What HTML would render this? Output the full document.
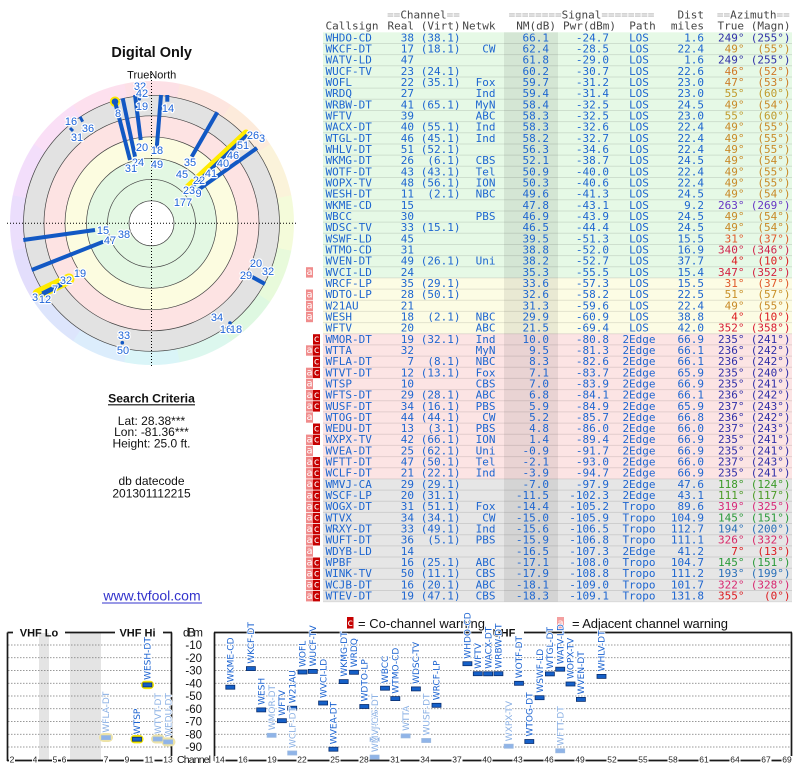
<!DOCTYPE html>
<html><head><meta charset="utf-8"><style>
body{margin:0;background:#fff;width:800px;height:768px;overflow:hidden;position:relative}
#ring{position:absolute;left:9.5px;top:81.3px;width:284px;height:284px;border-radius:50%;
background:conic-gradient(from -11.25deg,#fde0e6 0deg 22.5deg,#fde5df 22.5deg 45deg,#fdebdb 45deg 67.5deg,#fbf3da 67.5deg 90deg,#f4fbda 90deg 112.5deg,#e8fadb 112.5deg 135deg,#def8e1 135deg 157.5deg,#dcf7ee 157.5deg 180deg,#daf5f8 180deg 202.5deg,#dcedfc 202.5deg 225deg,#dde5fc 225deg 247.5deg,#e3defc 247.5deg 270deg,#ebdefc 270deg 292.5deg,#f3defb 292.5deg 315deg,#fadff6 315deg 337.5deg,#fde0ee 337.5deg 360deg)}
svg{position:absolute;left:0;top:0}
.tb{font-family:"DejaVu Sans Mono",monospace;font-size:11px}
.e{text-anchor:end}.m{text-anchor:middle}
.pl{font-family:"Liberation Sans",sans-serif;font-size:11px;fill:#1e64d8;stroke:#fff;stroke-width:2.4px;paint-order:stroke;stroke-linejoin:round;text-anchor:middle}
.sn{font-family:"Liberation Sans",sans-serif;fill:#111;text-anchor:middle}
.bl{font-family:"DejaVu Sans",sans-serif;font-size:9px;stroke:#fff;stroke-width:1.6px;paint-order:stroke;stroke-linejoin:round}
.dk{fill:#1a62d0}.lt{fill:#8ab0e4}
.mk{font-family:"DejaVu Sans Mono",monospace;font-size:10px;fill:#fff;text-anchor:middle}
.ax{font-family:"Liberation Sans",sans-serif;font-size:11.5px;fill:#111}
.ch{font-family:"Liberation Sans",sans-serif;font-size:8.5px;fill:#222;text-anchor:middle}
</style></head><body>
<div id="ring"></div>
<svg width="800" height="768" viewBox="0 0 800 768">
<!-- polar inner -->
<circle cx="151.5" cy="223.3" r="128" fill="#e2e2e2"/>
<circle cx="151.5" cy="223.3" r="107.5" fill="#fde3e3"/>
<circle cx="151.5" cy="223.3" r="86.5" fill="#fcfce0"/>
<circle cx="151.5" cy="223.3" r="65" fill="#e3f8e3"/>
<circle cx="151.5" cy="223.3" r="22.5" fill="#fff"/>
<g fill="none" stroke="#444" stroke-width="0.7">
<circle cx="151.5" cy="223.3" r="128"/><circle cx="151.5" cy="223.3" r="107.5"/><circle cx="151.5" cy="223.3" r="86.5"/><circle cx="151.5" cy="223.3" r="65"/><circle cx="151.5" cy="223.3" r="44"/><circle cx="151.5" cy="223.3" r="22.5"/>
</g>
<g stroke="#000" stroke-width="1" stroke-dasharray="1,2">
<line x1="7" y1="223.3" x2="296" y2="223.3"/><line x1="151.5" y1="74" x2="151.5" y2="367"/>
</g>
<text x="151.7" y="56.9" class="sn" style="font-size:14.5px;font-weight:bold">Digital Only</text>
<text x="151.7" y="78.3" class="sn" style="font-size:11px">TrueNorth</text>
<g stroke="#ffeb00" stroke-linecap="round" fill="none">
<line x1="188" y1="187" x2="246" y2="133" stroke-width="7"/>
<line x1="38" y1="294" x2="69" y2="279" stroke-width="11"/>
</g>
<circle cx="115" cy="101.7" r="5.2" fill="#ffe800"/>
<g stroke="#1258c4" stroke-width="4" fill="none">
<line x1="115" y1="101.7" x2="130" y2="160"/>
<line x1="122.7" y1="98.3" x2="135" y2="156.7"/>
<line x1="135" y1="95" x2="140.7" y2="140"/>
<line x1="161" y1="95" x2="156.7" y2="148.3"/>
<line x1="167.3" y1="95" x2="167.3" y2="101.7"/>
<line x1="217.3" y1="112.3" x2="191.7" y2="156.7"/>
<line x1="191" y1="188" x2="247" y2="135" stroke-width="3.5"/>
<line x1="198" y1="190" x2="257" y2="148"/>
<line x1="23.3" y1="240" x2="95" y2="230"/>
<line x1="31.7" y1="270" x2="103.3" y2="241.7"/>
<line x1="42" y1="293" x2="66" y2="281" stroke-width="3"/>
<line x1="40" y1="296" x2="62" y2="285" stroke-width="3"/>
<line x1="251.7" y1="276.7" x2="265" y2="284"/>
<line x1="70" y1="128" x2="73" y2="131" stroke-width="3"/>
<line x1="80" y1="116.7" x2="82.7" y2="121.7" stroke-width="3"/>
</g>
<circle cx="115" cy="101.7" r="3.3" fill="#1258c4"/>
<g fill="#1258c4"><circle cx="139.5" cy="99" r="1.6"/><circle cx="230" cy="323" r="1.8"/><circle cx="122.3" cy="342.7" r="1.8"/></g>
<g class="pl">
<text x="140" y="90">32</text><text x="142" y="97">42</text><text x="118" y="117">8</text><text x="142" y="110">19</text><text x="168" y="112">14</text>
<text x="71" y="125">16</text><text x="88" y="132">36</text><text x="77" y="141">31</text>
<text x="142" y="151">20</text><text x="157" y="154">18</text><text x="138" y="166">24</text><text x="131" y="172">31</text><text x="157" y="168">49</text>
<text x="190" y="166">35</text><text x="182" y="178">45</text>
<text x="262" y="142">3</text><text x="253" y="139">26</text><text x="243" y="149">51</text><text x="233" y="159">46</text><text x="223" y="167">40</text><text x="211" y="177">41</text><text x="199" y="184">22</text><text x="189" y="194">23</text><text x="198.5" y="197">9</text><text x="183" y="206">177</text>
<text x="103" y="234">15</text><text x="124" y="238">38</text><text x="110" y="244">47</text>
<text x="80" y="277">19</text><text x="66" y="284">32</text><text x="55" y="293">7</text><text x="35" y="301">3</text><text x="45" y="303">12</text>
<text x="256" y="267">20</text><text x="268" y="275">32</text><text x="246" y="279">29</text>
<text x="217" y="321">34</text><text x="226" y="333">16</text><text x="236" y="333">18</text>
<text x="124" y="339">33</text><text x="123" y="354">50</text>
</g>
<text x="151.5" y="402.3" class="sn" style="font-size:12.2px;font-weight:bold">Search Criteria</text>
<line x1="108" y1="404.8" x2="195" y2="404.8" stroke="#111" stroke-width="1.2"/>
<g class="sn" style="font-size:12px">
<text x="151.5" y="425">Lat: 28.38***</text><text x="151.5" y="436.2">Lon: -81.36***</text><text x="151.5" y="447.6">Height: 25.0 ft.</text>
<text x="151.5" y="485">db datecode</text><text x="151.5" y="497.6">201301112215</text>
</g>
<text x="152" y="600.7" style="font-family:'Liberation Sans',sans-serif;font-size:14px;fill:#3333cc;text-anchor:middle">www.tvfool.com</text>
<line x1="102" y1="603" x2="202" y2="603" stroke="#3333cc" stroke-width="1"/>

<!-- table backgrounds -->
<rect x="323" y="32.3" width="469" height="245.63" fill="#e6f9e6"/>
<rect x="323" y="277.93" width="469" height="55.83" fill="#fcfce4"/>
<rect x="323" y="333.76" width="469" height="145.14" fill="#fce4e4"/>
<rect x="323" y="478.9" width="469" height="122.8" fill="#e6e6e6"/>
<rect x="504" y="32.3" width="54" height="569.4" fill="rgba(0,0,0,0.075)"/>
<path fill="none" stroke="rgba(0,0,0,0.1)" stroke-width="1" d="M323 43.47h469M323 54.63h469M323 65.8h469M323 76.96h469M323 88.13h469M323 99.29h469M323 110.46h469M323 121.62h469M323 132.79h469M323 143.95h469M323 155.12h469M323 166.28h469M323 177.45h469M323 188.61h469M323 199.78h469M323 210.94h469M323 222.11h469M323 233.27h469M323 244.44h469M323 255.6h469M323 266.77h469M323 277.93h469M323 289.1h469M323 300.26h469M323 311.43h469M323 322.59h469M323 333.76h469M323 344.92h469M323 356.09h469M323 367.25h469M323 378.42h469M323 389.58h469M323 400.75h469M323 411.91h469M323 423.08h469M323 434.24h469M323 445.41h469M323 456.57h469M323 467.74h469M323 478.9h469M323 490.07h469M323 501.23h469M323 512.4h469M323 523.56h469M323 534.73h469M323 545.89h469M323 557.06h469M323 568.22h469M323 579.39h469M323 590.55h469M323 601.7h469"/>

<!-- header -->
<g class="tb" fill="#444">
<text class="m" x="423.5" y="18.5"><tspan fill="#aaa">==</tspan>Channel<tspan fill="#aaa">==</tspan></text>
<text class="m" x="581.5" y="18.5"><tspan fill="#aaa">========</tspan>Signal<tspan fill="#aaa">========</tspan></text>
<text class="e" x="704" y="18.5">Dist</text>
<text class="m" x="753.3" y="18.5"><tspan fill="#aaa">==</tspan>Azimuth<tspan fill="#aaa">==</tspan></text>
<text x="325.5" y="29.3">Callsign</text><text class="e" x="414" y="29.3">Real</text><text class="e" x="460.5" y="29.3">(Virt)</text><text class="e" x="495.5" y="29.3">Netwk</text><text class="e" x="556" y="29.3">NM(dB)</text><text class="e" x="616" y="29.3">Pwr(dBm)</text><text class="m" x="642.5" y="29.3">Path</text><text class="e" x="704" y="29.3">miles</text><text class="e" x="744" y="29.3">True</text><text class="e" x="790.5" y="29.3">(Magn)</text>
</g>

<!-- rows -->
<g class="tb" fill="#1e66d0">
<g transform="translate(0,41.3)"><text x="325.5">WHDO-CD</text><text class="e" x="414">38</text><text class="e" x="460.5">(38.1)</text><text class="e" x="549">66.1</text><text class="e" x="609">-24.7</text><text class="m" x="639">LOS</text><text class="e" x="704">1.6</text><g fill="#3030a8"><text class="e" x="744.5">249°</text><text class="e" x="790.5">(255°)</text></g></g>
<g transform="translate(0,52.5)"><text x="325.5">WKCF-DT</text><text class="e" x="414">17</text><text class="e" x="460.5">(18.1)</text><text class="e" x="495.5">CW</text><text class="e" x="549">62.4</text><text class="e" x="609">-28.5</text><text class="m" x="639">LOS</text><text class="e" x="704">22.4</text><g fill="#c88a28"><text class="e" x="744.5">49°</text><text class="e" x="790.5">(55°)</text></g></g>
<g transform="translate(0,63.6)"><text x="325.5">WATV-LD</text><text class="e" x="414">47</text><text class="e" x="549">61.8</text><text class="e" x="609">-29.0</text><text class="m" x="639">LOS</text><text class="e" x="704">1.6</text><g fill="#3030a8"><text class="e" x="744.5">249°</text><text class="e" x="790.5">(255°)</text></g></g>
<g transform="translate(0,74.8)"><text x="325.5">WUCF-TV</text><text class="e" x="414">23</text><text class="e" x="460.5">(24.1)</text><text class="e" x="549">60.2</text><text class="e" x="609">-30.7</text><text class="m" x="639">LOS</text><text class="e" x="704">22.6</text><g fill="#d07828"><text class="e" x="744.5">46°</text><text class="e" x="790.5">(52°)</text></g></g>
<g transform="translate(0,86)"><text x="325.5">WOFL</text><text class="e" x="414">22</text><text class="e" x="460.5">(35.1)</text><text class="e" x="495.5">Fox</text><text class="e" x="549">59.7</text><text class="e" x="609">-31.2</text><text class="m" x="639">LOS</text><text class="e" x="704">23.0</text><g fill="#cc7e28"><text class="e" x="744.5">47°</text><text class="e" x="790.5">(53°)</text></g></g>
<g transform="translate(0,97.1)"><text x="325.5">WRDQ</text><text class="e" x="414">27</text><text class="e" x="495.5">Ind</text><text class="e" x="549">59.4</text><text class="e" x="609">-31.4</text><text class="m" x="639">LOS</text><text class="e" x="704">23.0</text><g fill="#c09a2c"><text class="e" x="744.5">55°</text><text class="e" x="790.5">(60°)</text></g></g>
<g transform="translate(0,108.3)"><text x="325.5">WRBW-DT</text><text class="e" x="414">41</text><text class="e" x="460.5">(65.1)</text><text class="e" x="495.5">MyN</text><text class="e" x="549">58.4</text><text class="e" x="609">-32.5</text><text class="m" x="639">LOS</text><text class="e" x="704">24.5</text><g fill="#c88a28"><text class="e" x="744.5">49°</text><text class="e" x="790.5">(54°)</text></g></g>
<g transform="translate(0,119.5)"><text x="325.5">WFTV</text><text class="e" x="414">39</text><text class="e" x="495.5">ABC</text><text class="e" x="549">58.3</text><text class="e" x="609">-32.5</text><text class="m" x="639">LOS</text><text class="e" x="704">23.0</text><g fill="#c09a2c"><text class="e" x="744.5">55°</text><text class="e" x="790.5">(60°)</text></g></g>
<g transform="translate(0,130.6)"><text x="325.5">WACX-DT</text><text class="e" x="414">40</text><text class="e" x="460.5">(55.1)</text><text class="e" x="495.5">Ind</text><text class="e" x="549">58.3</text><text class="e" x="609">-32.6</text><text class="m" x="639">LOS</text><text class="e" x="704">22.4</text><g fill="#c88a28"><text class="e" x="744.5">49°</text><text class="e" x="790.5">(55°)</text></g></g>
<g transform="translate(0,141.8)"><text x="325.5">WTGL-DT</text><text class="e" x="414">46</text><text class="e" x="460.5">(45.1)</text><text class="e" x="495.5">Ind</text><text class="e" x="549">58.2</text><text class="e" x="609">-32.7</text><text class="m" x="639">LOS</text><text class="e" x="704">22.4</text><g fill="#c88a28"><text class="e" x="744.5">49°</text><text class="e" x="790.5">(55°)</text></g></g>
<g transform="translate(0,153)"><text x="325.5">WHLV-DT</text><text class="e" x="414">51</text><text class="e" x="460.5">(52.1)</text><text class="e" x="549">56.3</text><text class="e" x="609">-34.6</text><text class="m" x="639">LOS</text><text class="e" x="704">22.4</text><g fill="#c88a28"><text class="e" x="744.5">49°</text><text class="e" x="790.5">(55°)</text></g></g>
<g transform="translate(0,164.1)"><text x="325.5">WKMG-DT</text><text class="e" x="414">26</text><text class="e" x="460.5">(6.1)</text><text class="e" x="495.5">CBS</text><text class="e" x="549">52.1</text><text class="e" x="609">-38.7</text><text class="m" x="639">LOS</text><text class="e" x="704">24.5</text><g fill="#c88a28"><text class="e" x="744.5">49°</text><text class="e" x="790.5">(54°)</text></g></g>
<g transform="translate(0,175.3)"><text x="325.5">WOTF-DT</text><text class="e" x="414">43</text><text class="e" x="460.5">(43.1)</text><text class="e" x="495.5">Tel</text><text class="e" x="549">50.9</text><text class="e" x="609">-40.0</text><text class="m" x="639">LOS</text><text class="e" x="704">22.4</text><g fill="#c88a28"><text class="e" x="744.5">49°</text><text class="e" x="790.5">(55°)</text></g></g>
<g transform="translate(0,186.5)"><text x="325.5">WOPX-TV</text><text class="e" x="414">48</text><text class="e" x="460.5">(56.1)</text><text class="e" x="495.5">ION</text><text class="e" x="549">50.3</text><text class="e" x="609">-40.6</text><text class="m" x="639">LOS</text><text class="e" x="704">22.4</text><g fill="#c88a28"><text class="e" x="744.5">49°</text><text class="e" x="790.5">(55°)</text></g></g>
<g transform="translate(0,197.6)"><text x="325.5">WESH-DT</text><text class="e" x="414">11</text><text class="e" x="460.5">(2.1)</text><text class="e" x="495.5">NBC</text><text class="e" x="549">49.6</text><text class="e" x="609">-41.3</text><text class="m" x="639">LOS</text><text class="e" x="704">24.5</text><g fill="#c88a28"><text class="e" x="744.5">49°</text><text class="e" x="790.5">(54°)</text></g></g>
<g transform="translate(0,208.8)"><text x="325.5">WKME-CD</text><text class="e" x="414">15</text><text class="e" x="549">47.8</text><text class="e" x="609">-43.1</text><text class="m" x="639">LOS</text><text class="e" x="704">9.2</text><g fill="#6636c4"><text class="e" x="744.5">263°</text><text class="e" x="790.5">(269°)</text></g></g>
<g transform="translate(0,219.9)"><text x="325.5">WBCC</text><text class="e" x="414">30</text><text class="e" x="495.5">PBS</text><text class="e" x="549">46.9</text><text class="e" x="609">-43.9</text><text class="m" x="639">LOS</text><text class="e" x="704">24.5</text><g fill="#c88a28"><text class="e" x="744.5">49°</text><text class="e" x="790.5">(54°)</text></g></g>
<g transform="translate(0,231.1)"><text x="325.5">WDSC-TV</text><text class="e" x="414">33</text><text class="e" x="460.5">(15.1)</text><text class="e" x="549">46.5</text><text class="e" x="609">-44.4</text><text class="m" x="639">LOS</text><text class="e" x="704">24.5</text><g fill="#c88a28"><text class="e" x="744.5">49°</text><text class="e" x="790.5">(54°)</text></g></g>
<g transform="translate(0,242.3)"><text x="325.5">WSWF-LD</text><text class="e" x="414">45</text><text class="e" x="549">39.5</text><text class="e" x="609">-51.3</text><text class="m" x="639">LOS</text><text class="e" x="704">15.5</text><g fill="#e0582a"><text class="e" x="744.5">31°</text><text class="e" x="790.5">(37°)</text></g></g>
<g transform="translate(0,253.4)"><text x="325.5">WTMO-CD</text><text class="e" x="414">31</text><text class="e" x="549">38.8</text><text class="e" x="609">-52.0</text><text class="m" x="639">LOS</text><text class="e" x="704">16.9</text><g fill="#d0244c"><text class="e" x="744.5">340°</text><text class="e" x="790.5">(346°)</text></g></g>
<g transform="translate(0,264.6)"><text x="325.5">WVEN-DT</text><text class="e" x="414">49</text><text class="e" x="460.5">(26.1)</text><text class="e" x="495.5">Uni</text><text class="e" x="549">38.2</text><text class="e" x="609">-52.7</text><text class="m" x="639">LOS</text><text class="e" x="704">37.7</text><g fill="#dc1c20"><text class="e" x="744.5">4°</text><text class="e" x="790.5">(10°)</text></g></g>
<g transform="translate(0,275.8)"><text x="325.5">WVCI-LD</text><text class="e" x="414">24</text><text class="e" x="549">35.3</text><text class="e" x="609">-55.5</text><text class="m" x="639">LOS</text><text class="e" x="704">15.4</text><g fill="#d42240"><text class="e" x="744.5">347°</text><text class="e" x="790.5">(352°)</text></g></g>
<g transform="translate(0,286.9)"><text x="325.5">WRCF-LP</text><text class="e" x="414">35</text><text class="e" x="460.5">(29.1)</text><text class="e" x="549">33.6</text><text class="e" x="609">-57.3</text><text class="m" x="639">LOS</text><text class="e" x="704">15.5</text><g fill="#e0582a"><text class="e" x="744.5">31°</text><text class="e" x="790.5">(37°)</text></g></g>
<g transform="translate(0,298.1)"><text x="325.5">WDTO-LP</text><text class="e" x="414">28</text><text class="e" x="460.5">(50.1)</text><text class="e" x="549">32.6</text><text class="e" x="609">-58.2</text><text class="m" x="639">LOS</text><text class="e" x="704">22.5</text><g fill="#c89028"><text class="e" x="744.5">51°</text><text class="e" x="790.5">(57°)</text></g></g>
<g transform="translate(0,309.3)"><text x="325.5">W21AU</text><text class="e" x="414">21</text><text class="e" x="549">31.3</text><text class="e" x="609">-59.6</text><text class="m" x="639">LOS</text><text class="e" x="704">22.4</text><g fill="#c88a28"><text class="e" x="744.5">49°</text><text class="e" x="790.5">(55°)</text></g></g>
<g transform="translate(0,320.4)"><text x="325.5">WESH</text><text class="e" x="414">18</text><text class="e" x="460.5">(2.1)</text><text class="e" x="495.5">NBC</text><text class="e" x="549">29.9</text><text class="e" x="609">-60.9</text><text class="m" x="639">LOS</text><text class="e" x="704">38.8</text><g fill="#dc1c20"><text class="e" x="744.5">4°</text><text class="e" x="790.5">(10°)</text></g></g>
<g transform="translate(0,331.6)"><text x="325.5">WFTV</text><text class="e" x="414">20</text><text class="e" x="495.5">ABC</text><text class="e" x="549">21.5</text><text class="e" x="609">-69.4</text><text class="m" x="639">LOS</text><text class="e" x="704">42.0</text><g fill="#d81c34"><text class="e" x="744.5">352°</text><text class="e" x="790.5">(358°)</text></g></g>
<g transform="translate(0,342.8)"><text x="325.5">WMOR-DT</text><text class="e" x="414">19</text><text class="e" x="460.5">(32.1)</text><text class="e" x="495.5">Ind</text><text class="e" x="549">10.0</text><text class="e" x="609">-80.8</text><text class="m" x="639">2Edge</text><text class="e" x="704">66.9</text><g fill="#3030a8"><text class="e" x="744.5">235°</text><text class="e" x="790.5">(241°)</text></g></g>
<g transform="translate(0,353.9)"><text x="325.5">WTTA</text><text class="e" x="414">32</text><text class="e" x="495.5">MyN</text><text class="e" x="549">9.5</text><text class="e" x="609">-81.3</text><text class="m" x="639">2Edge</text><text class="e" x="704">66.1</text><g fill="#3030a8"><text class="e" x="744.5">236°</text><text class="e" x="790.5">(242°)</text></g></g>
<g transform="translate(0,365.1)"><text x="325.5">WFLA-DT</text><text class="e" x="414">7</text><text class="e" x="460.5">(8.1)</text><text class="e" x="495.5">NBC</text><text class="e" x="549">8.3</text><text class="e" x="609">-82.6</text><text class="m" x="639">2Edge</text><text class="e" x="704">66.1</text><g fill="#3030a8"><text class="e" x="744.5">236°</text><text class="e" x="790.5">(242°)</text></g></g>
<g transform="translate(0,376.3)"><text x="325.5">WTVT-DT</text><text class="e" x="414">12</text><text class="e" x="460.5">(13.1)</text><text class="e" x="495.5">Fox</text><text class="e" x="549">7.1</text><text class="e" x="609">-83.7</text><text class="m" x="639">2Edge</text><text class="e" x="704">65.9</text><g fill="#3030a8"><text class="e" x="744.5">235°</text><text class="e" x="790.5">(240°)</text></g></g>
<g transform="translate(0,387.4)"><text x="325.5">WTSP</text><text class="e" x="414">10</text><text class="e" x="495.5">CBS</text><text class="e" x="549">7.0</text><text class="e" x="609">-83.9</text><text class="m" x="639">2Edge</text><text class="e" x="704">66.9</text><g fill="#3030a8"><text class="e" x="744.5">235°</text><text class="e" x="790.5">(241°)</text></g></g>
<g transform="translate(0,398.6)"><text x="325.5">WFTS-DT</text><text class="e" x="414">29</text><text class="e" x="460.5">(28.1)</text><text class="e" x="495.5">ABC</text><text class="e" x="549">6.8</text><text class="e" x="609">-84.1</text><text class="m" x="639">2Edge</text><text class="e" x="704">66.1</text><g fill="#3030a8"><text class="e" x="744.5">236°</text><text class="e" x="790.5">(242°)</text></g></g>
<g transform="translate(0,409.8)"><text x="325.5">WUSF-DT</text><text class="e" x="414">34</text><text class="e" x="460.5">(16.1)</text><text class="e" x="495.5">PBS</text><text class="e" x="549">5.9</text><text class="e" x="609">-84.9</text><text class="m" x="639">2Edge</text><text class="e" x="704">65.9</text><g fill="#3030a8"><text class="e" x="744.5">237°</text><text class="e" x="790.5">(243°)</text></g></g>
<g transform="translate(0,420.9)"><text x="325.5">WTOG-DT</text><text class="e" x="414">44</text><text class="e" x="460.5">(44.1)</text><text class="e" x="495.5">CW</text><text class="e" x="549">5.2</text><text class="e" x="609">-85.7</text><text class="m" x="639">2Edge</text><text class="e" x="704">66.8</text><g fill="#3030a8"><text class="e" x="744.5">236°</text><text class="e" x="790.5">(242°)</text></g></g>
<g transform="translate(0,432.1)"><text x="325.5">WEDU-DT</text><text class="e" x="414">13</text><text class="e" x="460.5">(3.1)</text><text class="e" x="495.5">PBS</text><text class="e" x="549">4.8</text><text class="e" x="609">-86.0</text><text class="m" x="639">2Edge</text><text class="e" x="704">66.0</text><g fill="#3030a8"><text class="e" x="744.5">237°</text><text class="e" x="790.5">(243°)</text></g></g>
<g transform="translate(0,443.2)"><text x="325.5">WXPX-TV</text><text class="e" x="414">42</text><text class="e" x="460.5">(66.1)</text><text class="e" x="495.5">ION</text><text class="e" x="549">1.4</text><text class="e" x="609">-89.4</text><text class="m" x="639">2Edge</text><text class="e" x="704">66.9</text><g fill="#3030a8"><text class="e" x="744.5">235°</text><text class="e" x="790.5">(241°)</text></g></g>
<g transform="translate(0,454.4)"><text x="325.5">WVEA-DT</text><text class="e" x="414">25</text><text class="e" x="460.5">(62.1)</text><text class="e" x="495.5">Uni</text><text class="e" x="549">-0.9</text><text class="e" x="609">-91.7</text><text class="m" x="639">2Edge</text><text class="e" x="704">66.9</text><g fill="#3030a8"><text class="e" x="744.5">235°</text><text class="e" x="790.5">(241°)</text></g></g>
<g transform="translate(0,465.6)"><text x="325.5">WFTT-DT</text><text class="e" x="414">47</text><text class="e" x="460.5">(50.1)</text><text class="e" x="495.5">Tel</text><text class="e" x="549">-2.1</text><text class="e" x="609">-93.0</text><text class="m" x="639">2Edge</text><text class="e" x="704">66.0</text><g fill="#3030a8"><text class="e" x="744.5">237°</text><text class="e" x="790.5">(243°)</text></g></g>
<g transform="translate(0,476.7)"><text x="325.5">WCLF-DT</text><text class="e" x="414">21</text><text class="e" x="460.5">(22.1)</text><text class="e" x="495.5">Ind</text><text class="e" x="549">-3.9</text><text class="e" x="609">-94.7</text><text class="m" x="639">2Edge</text><text class="e" x="704">66.9</text><g fill="#3030a8"><text class="e" x="744.5">235°</text><text class="e" x="790.5">(241°)</text></g></g>
<g transform="translate(0,487.9)"><text x="325.5">WMVJ-CA</text><text class="e" x="414">29</text><text class="e" x="460.5">(29.1)</text><text class="e" x="549">-7.0</text><text class="e" x="609">-97.9</text><text class="m" x="639">2Edge</text><text class="e" x="704">47.6</text><g fill="#3a9a28"><text class="e" x="744.5">118°</text><text class="e" x="790.5">(124°)</text></g></g>
<g transform="translate(0,499.1)"><text x="325.5">WSCF-LP</text><text class="e" x="414">20</text><text class="e" x="460.5">(31.1)</text><text class="e" x="549">-11.5</text><text class="e" x="609">-102.3</text><text class="m" x="639">2Edge</text><text class="e" x="704">43.1</text><g fill="#4a9a24"><text class="e" x="744.5">111°</text><text class="e" x="790.5">(117°)</text></g></g>
<g transform="translate(0,510.2)"><text x="325.5">WOGX-DT</text><text class="e" x="414">31</text><text class="e" x="460.5">(51.1)</text><text class="e" x="495.5">Fox</text><text class="e" x="549">-14.4</text><text class="e" x="609">-105.2</text><text class="m" x="639">Tropo</text><text class="e" x="704">89.6</text><g fill="#d82878"><text class="e" x="744.5">319°</text><text class="e" x="790.5">(325°)</text></g></g>
<g transform="translate(0,521.4)"><text x="325.5">WTVX</text><text class="e" x="414">34</text><text class="e" x="460.5">(34.1)</text><text class="e" x="495.5">CW</text><text class="e" x="549">-15.0</text><text class="e" x="609">-105.9</text><text class="m" x="639">Tropo</text><text class="e" x="704">104.9</text><g fill="#2a9a3a"><text class="e" x="744.5">145°</text><text class="e" x="790.5">(151°)</text></g></g>
<g transform="translate(0,532.6)"><text x="325.5">WRXY-DT</text><text class="e" x="414">33</text><text class="e" x="460.5">(49.1)</text><text class="e" x="495.5">Ind</text><text class="e" x="549">-15.6</text><text class="e" x="609">-106.5</text><text class="m" x="639">Tropo</text><text class="e" x="704">112.7</text><g fill="#2a70b8"><text class="e" x="744.5">194°</text><text class="e" x="790.5">(200°)</text></g></g>
<g transform="translate(0,543.7)"><text x="325.5">WUFT-DT</text><text class="e" x="414">36</text><text class="e" x="460.5">(5.1)</text><text class="e" x="495.5">PBS</text><text class="e" x="549">-15.9</text><text class="e" x="609">-106.8</text><text class="m" x="639">Tropo</text><text class="e" x="704">111.1</text><g fill="#d82868"><text class="e" x="744.5">326°</text><text class="e" x="790.5">(332°)</text></g></g>
<g transform="translate(0,554.9)"><text x="325.5">WDYB-LD</text><text class="e" x="414">14</text><text class="e" x="549">-16.5</text><text class="e" x="609">-107.3</text><text class="m" x="639">2Edge</text><text class="e" x="704">41.2</text><g fill="#dc1c20"><text class="e" x="744.5">7°</text><text class="e" x="790.5">(13°)</text></g></g>
<g transform="translate(0,566.1)"><text x="325.5">WPBF</text><text class="e" x="414">16</text><text class="e" x="460.5">(25.1)</text><text class="e" x="495.5">ABC</text><text class="e" x="549">-17.1</text><text class="e" x="609">-108.0</text><text class="m" x="639">Tropo</text><text class="e" x="704">104.7</text><g fill="#2a9a3a"><text class="e" x="744.5">145°</text><text class="e" x="790.5">(151°)</text></g></g>
<g transform="translate(0,577.2)"><text x="325.5">WINK-TV</text><text class="e" x="414">50</text><text class="e" x="460.5">(11.1)</text><text class="e" x="495.5">CBS</text><text class="e" x="549">-17.9</text><text class="e" x="609">-108.8</text><text class="m" x="639">Tropo</text><text class="e" x="704">111.2</text><g fill="#2a70b8"><text class="e" x="744.5">193°</text><text class="e" x="790.5">(199°)</text></g></g>
<g transform="translate(0,588.4)"><text x="325.5">WCJB-DT</text><text class="e" x="414">16</text><text class="e" x="460.5">(20.1)</text><text class="e" x="495.5">ABC</text><text class="e" x="549">-18.1</text><text class="e" x="609">-109.0</text><text class="m" x="639">Tropo</text><text class="e" x="704">101.7</text><g fill="#d82870"><text class="e" x="744.5">322°</text><text class="e" x="790.5">(328°)</text></g></g>
<g transform="translate(0,599.6)"><text x="325.5">WTEV-DT</text><text class="e" x="414">19</text><text class="e" x="460.5">(47.1)</text><text class="e" x="495.5">CBS</text><text class="e" x="549">-18.3</text><text class="e" x="609">-109.1</text><text class="m" x="639">Tropo</text><text class="e" x="704">131.8</text><g fill="#dc1c20"><text class="e" x="744.5">355°</text><text class="e" x="790.5">(0°)</text></g></g>
</g>

<!-- warning markers -->
<g fill="#f08c8c">
<rect x="306" y="267.2" width="7" height="10.4"/><rect x="306" y="289.5" width="7" height="10.4"/><rect x="306" y="300.7" width="7" height="10.4"/><rect x="306" y="311.8" width="7" height="10.4"/>
<rect x="306" y="345.3" width="7" height="10.4"/><rect x="306" y="367.7" width="7" height="10.4"/><rect x="306" y="378.8" width="7" height="10.4"/><rect x="306" y="390" width="7" height="10.4"/><rect x="306" y="401.2" width="7" height="10.4"/><rect x="306" y="412.3" width="7" height="10.4"/><rect x="306" y="434.6" width="7" height="10.4"/><rect x="306" y="445.8" width="7" height="10.4"/><rect x="306" y="457" width="7" height="10.4"/><rect x="306" y="468.1" width="7" height="10.4"/><rect x="306" y="479.3" width="7" height="10.4"/><rect x="306" y="490.5" width="7" height="10.4"/><rect x="306" y="501.6" width="7" height="10.4"/><rect x="306" y="512.8" width="7" height="10.4"/><rect x="306" y="524" width="7" height="10.4"/><rect x="306" y="535.1" width="7" height="10.4"/><rect x="306" y="546.3" width="7" height="10.4"/><rect x="306" y="557.5" width="7" height="10.4"/><rect x="306" y="568.6" width="7" height="10.4"/><rect x="306" y="579.8" width="7" height="10.4"/><rect x="306" y="591" width="7" height="10.4"/>
</g>
<g fill="#c60000">
<rect x="313" y="334.2" width="7" height="10.4"/><rect x="313" y="345.3" width="7" height="10.4"/><rect x="313" y="356.5" width="7" height="10.4"/><rect x="313" y="367.7" width="7" height="10.4"/><rect x="313" y="390" width="7" height="10.4"/><rect x="313" y="401.2" width="7" height="10.4"/><rect x="313" y="423.5" width="7" height="10.4"/><rect x="313" y="434.6" width="7" height="10.4"/><rect x="313" y="457" width="7" height="10.4"/><rect x="313" y="468.1" width="7" height="10.4"/><rect x="313" y="479.3" width="7" height="10.4"/><rect x="313" y="490.5" width="7" height="10.4"/><rect x="313" y="501.6" width="7" height="10.4"/><rect x="313" y="512.8" width="7" height="10.4"/><rect x="313" y="524" width="7" height="10.4"/><rect x="313" y="535.1" width="7" height="10.4"/><rect x="313" y="557.5" width="7" height="10.4"/><rect x="313" y="568.6" width="7" height="10.4"/><rect x="313" y="579.8" width="7" height="10.4"/><rect x="313" y="591" width="7" height="10.4"/>
</g>
<g class="mk">
<text x="309.5" y="275">a</text><text x="309.5" y="297.3">a</text><text x="309.5" y="308.5">a</text><text x="309.5" y="319.6">a</text>
<text x="309.5" y="353.1">a</text><text x="309.5" y="375.5">a</text><text x="309.5" y="386.6">a</text><text x="309.5" y="397.8">a</text><text x="309.5" y="409">a</text><text x="309.5" y="420.1">a</text><text x="309.5" y="442.4">a</text><text x="309.5" y="453.6">a</text><text x="309.5" y="464.8">a</text><text x="309.5" y="475.9">a</text><text x="309.5" y="487.1">a</text><text x="309.5" y="498.3">a</text><text x="309.5" y="509.4">a</text><text x="309.5" y="520.6">a</text><text x="309.5" y="531.8">a</text><text x="309.5" y="542.9">a</text><text x="309.5" y="554.1">a</text><text x="309.5" y="565.3">a</text><text x="309.5" y="576.4">a</text><text x="309.5" y="587.6">a</text><text x="309.5" y="598.8">a</text>
<text x="316.5" y="342">c</text><text x="316.5" y="353.1">c</text><text x="316.5" y="364.3">c</text><text x="316.5" y="375.5">c</text><text x="316.5" y="397.8">c</text><text x="316.5" y="409">c</text><text x="316.5" y="431.3">c</text><text x="316.5" y="442.4">c</text><text x="316.5" y="464.8">c</text><text x="316.5" y="475.9">c</text><text x="316.5" y="487.1">c</text><text x="316.5" y="498.3">c</text><text x="316.5" y="509.4">c</text><text x="316.5" y="520.6">c</text><text x="316.5" y="531.8">c</text><text x="316.5" y="542.9">c</text><text x="316.5" y="565.3">c</text><text x="316.5" y="576.4">c</text><text x="316.5" y="587.6">c</text><text x="316.5" y="598.8">c</text>
</g>

<!-- bottom chart legend -->
<rect x="347" y="617" width="6.5" height="11.5" fill="#c60000"/><text x="350.2" y="626" class="mk">c</text>
<text x="358" y="628" textLength="127" style="font-family:'Liberation Sans',sans-serif;font-size:13px;fill:#111">= Co-channel warning</text>
<rect x="557" y="617" width="7" height="11.5" fill="#f4a0a0"/><text x="560.5" y="626" class="mk">a</text>
<text x="572" y="628" textLength="156" style="font-family:'Liberation Sans',sans-serif;font-size:13px;fill:#111">= Adjacent channel warning</text>

<!-- VHF/UHF boxes -->
<rect x="39" y="633" width="10" height="127" fill="#e4e4e4"/>
<rect x="70" y="633" width="31" height="127" fill="#e4e4e4"/>
<path fill="none" stroke="#777" stroke-width="0.8" stroke-dasharray="1.5,1.5" d="M8 645H171M8 657.75H171M8 670.5H171M8 683.25H171M8 696H171M8 708.75H171M8 721.5H171M8 734.25H171M8 747H171M215 645H791M215 657.75H791M215 670.5H791M215 683.25H791M215 696H791M215 708.75H791M215 721.5H791M215 734.25H791M215 747H791"/>
<g stroke="#1a1a1a" stroke-width="1.7" fill="none">
<path d="M7.5 632.5H13M65 632.5H115M163 632.5H172M7.5 632.5V761M171.5 632.5V761M7 760.5H172"/>
<path d="M214 632.5H482M524 632.5H792M214.5 632.5V761M791.5 632.5V761M214 760.5H792"/>
</g>
<g style="font-family:'Liberation Sans',sans-serif;font-size:11px;font-weight:bold;fill:#111;text-anchor:middle">
<text x="39" y="636.5">VHF Lo</text><text x="137.5" y="636.5">VHF Hi</text><text x="504" y="636.5">UHF</text>
</g>
<g class="ax">
<text x="193" y="636.5" class="m" textLength="20">dBm</text>
<text x="202" y="649" class="e">-10</text><text x="202" y="661.8" class="e">-20</text><text x="202" y="674.5" class="e">-30</text><text x="202" y="687.3" class="e">-40</text><text x="202" y="700" class="e">-50</text><text x="202" y="712.8" class="e">-60</text><text x="202" y="725.5" class="e">-70</text><text x="202" y="738.3" class="e">-80</text><text x="202" y="751" class="e">-90</text>
<text x="177" y="763" textLength="34" style="font-size:10.5px">Channel</text>
</g>
<g fill="#fff">
<rect x="9" y="756" width="6" height="8"/><rect x="32" y="756" width="6" height="8"/><rect x="52" y="756" width="6" height="8"/><rect x="61" y="756" width="6" height="8"/><rect x="103" y="756" width="6" height="8"/><rect x="124" y="756" width="6" height="8"/><rect x="143.5" y="756" width="11" height="8"/><rect x="162.5" y="756" width="11" height="8"/>
<rect x="214.5" y="756" width="11" height="8"/><rect x="237.5" y="756" width="11" height="8"/><rect x="266.5" y="756" width="11" height="8"/><rect x="296.5" y="756" width="11" height="8"/><rect x="329.5" y="756" width="11" height="8"/><rect x="358.5" y="756" width="11" height="8"/><rect x="389.5" y="756" width="11" height="8"/><rect x="419.5" y="756" width="11" height="8"/><rect x="451.5" y="756" width="11" height="8"/><rect x="481.5" y="756" width="11" height="8"/><rect x="512.5" y="756" width="11" height="8"/><rect x="543.5" y="756" width="11" height="8"/><rect x="574.5" y="756" width="11" height="8"/><rect x="606.5" y="756" width="11" height="8"/><rect x="637.5" y="756" width="11" height="8"/><rect x="667.5" y="756" width="11" height="8"/><rect x="698.5" y="756" width="11" height="8"/><rect x="729.5" y="756" width="11" height="8"/><rect x="760.5" y="756" width="11" height="8"/><rect x="781.5" y="756" width="11" height="8"/>
</g>
<g class="ch">
<text x="12" y="762.5">2</text><text x="35" y="762.5">4</text><text x="55" y="762.5">5</text><text x="64" y="762.5">6</text><text x="106" y="762.5">7</text><text x="127" y="762.5">9</text><text x="149" y="762.5">11</text><text x="168" y="762.5">13</text>
<text x="220" y="762.5">14</text><text x="243" y="762.5">16</text><text x="272" y="762.5">19</text><text x="302" y="762.5">22</text><text x="335" y="762.5">25</text><text x="364" y="762.5">28</text><text x="395" y="762.5">31</text><text x="425" y="762.5">34</text><text x="457" y="762.5">37</text><text x="487" y="762.5">40</text><text x="518" y="762.5">43</text><text x="549" y="762.5">46</text><text x="580" y="762.5">49</text><text x="612" y="762.5">52</text><text x="643" y="762.5">55</text><text x="673" y="762.5">58</text><text x="704" y="762.5">61</text><text x="735" y="762.5">64</text><text x="766" y="762.5">67</text><text x="787" y="762.5">69</text>
</g>
<rect x="141" y="680.7" width="13" height="8.4" rx="4" fill="#f2e600"/>
<rect x="130.5" y="735" width="13" height="8.4" rx="4" fill="#f2e600"/>
<g fill="#ede3a8"><rect x="99" y="733" width="14" height="9" rx="4.5"/><rect x="151" y="734.5" width="14" height="9" rx="4.5"/><rect x="161.5" y="737.4" width="14" height="9" rx="4.5"/></g>
<g fill="#8fb4e8" stroke="#9ab8e0" stroke-width="0.8">
<rect x="267.1" y="733.3" width="9" height="4"/><rect x="401.1" y="733.9" width="9" height="4"/><rect x="370.1" y="737.5" width="9" height="4"/><rect x="421.7" y="738.5" width="9" height="4"/><rect x="504.2" y="744.2" width="9" height="4"/><rect x="555.7" y="748.8" width="9" height="4"/><rect x="287.7" y="751" width="9" height="4"/><rect x="370.1" y="755.1" width="9" height="4"/><rect x="101.5" y="735.6" width="9" height="4"/><rect x="153.2" y="737" width="9" height="4"/><rect x="163.6" y="739.9" width="9" height="4"/>
</g>
<g fill="#1560c8" stroke="#0a2e6e" stroke-width="0.8">
<rect x="462.9" y="661.7" width="9" height="4"/><rect x="246.4" y="666.6" width="9" height="4"/><rect x="555.7" y="667.2" width="9" height="4"/><rect x="308.3" y="669.4" width="9" height="4"/><rect x="298" y="670" width="9" height="4"/><rect x="349.5" y="670.3" width="9" height="4"/><rect x="493.9" y="671.7" width="9" height="4"/><rect x="473.3" y="671.7" width="9" height="4"/><rect x="483.6" y="671.8" width="9" height="4"/><rect x="545.4" y="671.9" width="9" height="4"/><rect x="597" y="674.4" width="9" height="4"/><rect x="339.2" y="679.6" width="9" height="4"/><rect x="514.5" y="681.3" width="9" height="4"/><rect x="566" y="682" width="9" height="4"/><rect x="225.8" y="685.2" width="9" height="4"/><rect x="380.5" y="686.2" width="9" height="4"/><rect x="411.4" y="686.9" width="9" height="4"/><rect x="535.1" y="695.7" width="9" height="4"/><rect x="390.8" y="696.6" width="9" height="4"/><rect x="576.4" y="697.4" width="9" height="4"/><rect x="318.6" y="701" width="9" height="4"/><rect x="432" y="703.3" width="9" height="4"/><rect x="359.8" y="704.5" width="9" height="4"/><rect x="287.7" y="706.2" width="9" height="4"/><rect x="256.7" y="707.9" width="9" height="4"/><rect x="277.4" y="718.7" width="9" height="4"/><rect x="524.8" y="739.5" width="9" height="4"/><rect x="328.9" y="747.2" width="9" height="4"/><rect x="142.9" y="682.9" width="9" height="4"/><rect x="132.5" y="737.2" width="9" height="4"/>
</g>
<g class="bl lt">
<text transform="translate(274.8,730.3) rotate(-90)">WMOR-DT</text>
<text transform="translate(408.8,730.9) rotate(-90)">WTTA</text>
<text transform="translate(377.8,734.5) rotate(-90)">WFTS-DT</text>
<text transform="translate(429.4,735.5) rotate(-90)">WUSF-DT</text>
<text transform="translate(511.9,741.2) rotate(-90)">WXPX-TV</text>
<text transform="translate(563.4,745.8) rotate(-90)">WFTT-DT</text>
<text transform="translate(295.4,748) rotate(-90)">WCLF-DT</text>
<text transform="translate(377.8,752.1) rotate(-90)">WMVJ-CA</text>
<text transform="translate(109.2,732.6) rotate(-90)">WFLA-DT</text>
<text transform="translate(160.9,734) rotate(-90)">WTVT-DT</text>
<text transform="translate(171.3,736.9) rotate(-90)">WEDU-DT</text>
</g>
<g class="bl dk">
<text transform="translate(470.6,658.7) rotate(-90)">WHDO-CD</text>
<text transform="translate(254.1,663.6) rotate(-90)">WKCF-DT</text>
<text transform="translate(563.4,664.2) rotate(-90)">WATV-LD</text>
<text transform="translate(316,666.4) rotate(-90)">WUCF-TV</text>
<text transform="translate(305.7,667) rotate(-90)">WOFL</text>
<text transform="translate(357.2,667.3) rotate(-90)">WRDQ</text>
<text transform="translate(501.6,668.7) rotate(-90)">WRBW-DT</text>
<text transform="translate(481,668.7) rotate(-90)">WFTV</text>
<text transform="translate(491.3,668.8) rotate(-90)">WACX-DT</text>
<text transform="translate(553.1,668.9) rotate(-90)">WTGL-DT</text>
<text transform="translate(604.7,671.4) rotate(-90)">WHLV-DT</text>
<text transform="translate(346.9,676.6) rotate(-90)">WKMG-DT</text>
<text transform="translate(522.2,678.3) rotate(-90)">WOTF-DT</text>
<text transform="translate(573.7,679) rotate(-90)">WOPX-TV</text>
<text transform="translate(233.5,682.2) rotate(-90)">WKME-CD</text>
<text transform="translate(388.2,683.2) rotate(-90)">WBCC</text>
<text transform="translate(419.1,683.9) rotate(-90)">WDSC-TV</text>
<text transform="translate(542.8,692.7) rotate(-90)">WSWF-LD</text>
<text transform="translate(398.5,693.6) rotate(-90)">WTMO-CD</text>
<text transform="translate(584.1,694.4) rotate(-90)">WVEN-DT</text>
<text transform="translate(326.3,698) rotate(-90)">WVCI-LD</text>
<text transform="translate(439.7,700.3) rotate(-90)">WRCF-LP</text>
<text transform="translate(367.5,701.5) rotate(-90)">WDTO-LP</text>
<text transform="translate(295.4,703.2) rotate(-90)">W21AU</text>
<text transform="translate(264.4,704.9) rotate(-90)">WESH</text>
<text transform="translate(285.1,715.7) rotate(-90)">WFTV</text>
<text transform="translate(532.5,736.5) rotate(-90)">WTOG-DT</text>
<text transform="translate(336.6,744.2) rotate(-90)">WVEA-DT</text>
<text transform="translate(150.6,679.9) rotate(-90)">WESH-DT</text>
<text transform="translate(140.2,734.2) rotate(-90)">WTSP</text>
</g>
</svg>
</body></html>
